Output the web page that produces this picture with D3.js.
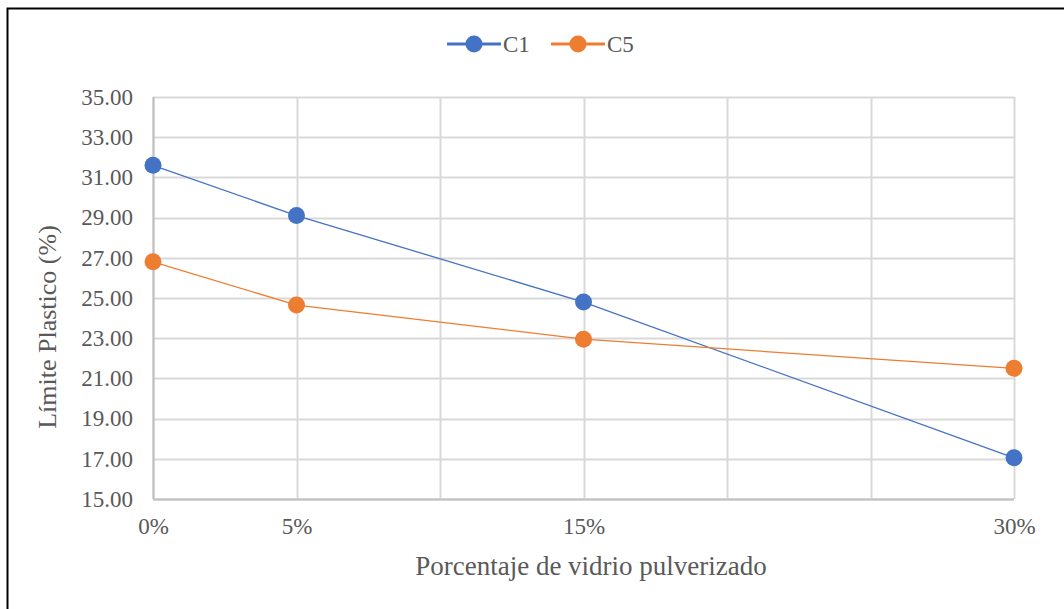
<!DOCTYPE html>
<html>
<head>
<meta charset="utf-8">
<script src="https://cdn.jsdelivr.net/npm/d3@7"></script>
<style>
  html, body { margin: 0; padding: 0; background: #fff; }
  svg { display: block; }
</style>
</head>
<body>
<script>
// Glass-powder percentage on the x axis (linear scale)
const glassPct = [0, 5, 15, 30];
const xTickLabels = ["0%", "5%", "15%", "30%"];
const xGridValues = [0, 5, 10, 15, 20, 25, 30];

// Plastic limit per sample
const seriesNames = ["C1", "C5"];
const c1Values = [31.6, 29.1, 24.8, 17.05];
const c5Values = [26.8, 24.65, 22.95, 21.5];
const seriesColors = ["#4472C4", "#ED7D31"];

const yTicks = [15, 17, 19, 21, 23, 25, 27, 29, 31, 33, 35];

const W = 1064, H = 609;
const margin = { left: 153, right: 50, top: 97, bottom: 110 };

const svg = d3.select("body").append("svg")
  .attr("width", W).attr("height", H);

// outer frame
svg.append("rect")
  .attr("x", 7.5).attr("y", 8.5)
  .attr("width", W + 20).attr("height", H + 20)
  .attr("fill", "none").attr("stroke", "#000").attr("stroke-width", 2);

const x = d3.scaleLinear().domain([0, 30]).range([margin.left, W - margin.right]);
const y = d3.scaleLinear().domain([15, 35]).range([H - margin.bottom, margin.top]);

const font = "'Liberation Serif', 'Times New Roman', serif";
const textColor = "#595959";

// gridlines
const grid = svg.append("g");
grid.selectAll(".hg").data(yTicks).join("line")
  .attr("x1", x(0)).attr("x2", x(30))
  .attr("y1", d => Math.round(y(d)) + 0.5).attr("y2", d => Math.round(y(d)) + 0.5)
  .attr("stroke", "#d9d9d9").attr("stroke-width", 2);
grid.selectAll(".vg").data(xGridValues).join("line")
  .attr("x1", d => Math.round(x(d)) + 0.5).attr("x2", d => Math.round(x(d)) + 0.5)
  .attr("y1", y(35)).attr("y2", y(15))
  .attr("stroke", "#d9d9d9").attr("stroke-width", 2);

// axis lines
svg.append("line")
  .attr("x1", x(0) + 0.5).attr("x2", x(0) + 0.5)
  .attr("y1", y(35)).attr("y2", y(15))
  .attr("stroke", "#bfbfbf").attr("stroke-width", 2);
svg.append("line")
  .attr("x1", x(0)).attr("x2", x(30))
  .attr("y1", y(15) + 0.5).attr("y2", y(15) + 0.5)
  .attr("stroke", "#bfbfbf").attr("stroke-width", 2);

// y axis labels
const yAxis = d3.axisLeft(y).tickValues(yTicks).tickFormat(d3.format(".2f")).tickSize(0).tickPadding(20);
const gy = svg.append("g").attr("transform", `translate(${x(0)},0)`).call(yAxis);
gy.select(".domain").remove();
gy.selectAll("text").attr("font-family", font).attr("font-size", 23).attr("fill", textColor);

// x axis labels
const xAxis = d3.axisBottom(x).tickValues(glassPct).tickFormat((d, i) => xTickLabels[i]).tickSize(0).tickPadding(19);
const gx = svg.append("g").attr("transform", `translate(0,${y(15)})`).call(xAxis);
gx.select(".domain").remove();
gx.selectAll("text").attr("font-family", font).attr("font-size", 23).attr("fill", textColor);

// axis titles
svg.append("text")
  .attr("x", 591).attr("y", 575)
  .attr("text-anchor", "middle")
  .attr("font-family", font).attr("font-size", 27).attr("fill", textColor)
  .text("Porcentaje de vidrio pulverizado");
svg.append("text")
  .attr("transform", `translate(56,327) rotate(-90)`)
  .attr("text-anchor", "middle")
  .attr("font-family", font).attr("font-size", 26).attr("fill", textColor)
  .text("Límite Plastico (%)");

// series
const series = [c1Values, c5Values];
const line = d3.line().x((d, i) => x(glassPct[i])).y(d => y(d));
series.forEach((vals, s) => {
  svg.append("path").datum(vals)
    .attr("d", line).attr("fill", "none")
    .attr("stroke", seriesColors[s]).attr("stroke-width", 1.3);
  svg.selectAll(null).data(vals).join("circle")
    .attr("cx", (d, i) => x(glassPct[i])).attr("cy", d => y(d))
    .attr("r", 8.5).attr("fill", seriesColors[s]);
});

// legend
const legend = svg.append("g").attr("transform", "translate(447,44)");
const legendX = [0, 104];
seriesNames.forEach((name, s) => {
  const g = legend.append("g").attr("transform", `translate(${legendX[s]},0)`);
  g.append("line").attr("x1", 0).attr("x2", 54).attr("y1", 0).attr("y2", 0)
    .attr("stroke", seriesColors[s]).attr("stroke-width", 3);
  g.append("circle").attr("cx", 27).attr("cy", 0).attr("r", 8.5).attr("fill", seriesColors[s]);
  g.append("text").attr("x", 56).attr("y", 8)
    .attr("font-family", font).attr("font-size", 23).attr("fill", textColor)
    .text(name);
});
</script>
</body>
</html>
